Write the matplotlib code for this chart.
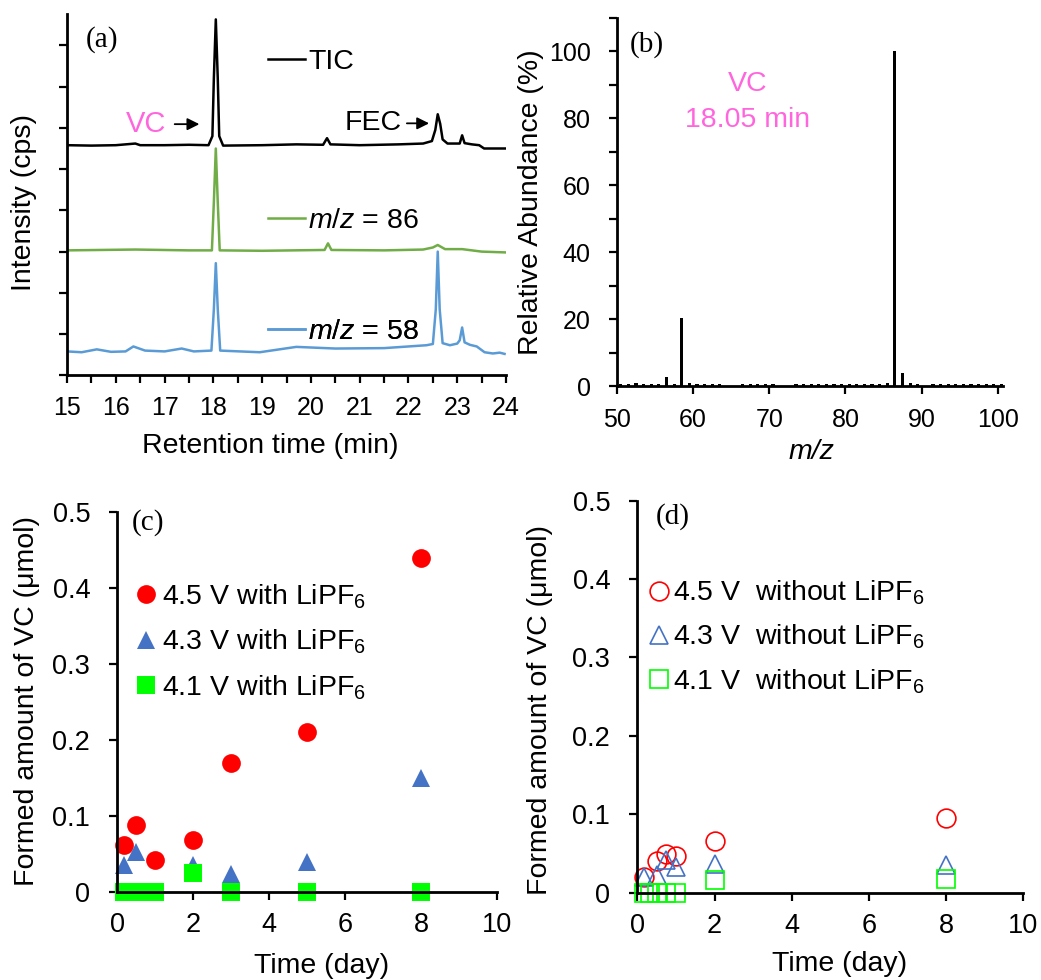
import numpy as np
import matplotlib
matplotlib.use('Agg')
import matplotlib.pyplot as plt
from matplotlib.ticker import MultipleLocator, FuncFormatter

plt.rcParams['font.family'] = ['Liberation Sans', 'DejaVu Sans']
plt.rcParams['mathtext.fontset'] = 'custom'
plt.rcParams['mathtext.rm'] = 'Liberation Sans'
plt.rcParams['mathtext.it'] = 'Liberation Sans:italic'
plt.rcParams['mathtext.default'] = 'regular'

PINK = '#ff66dd'
LAB = 20.5

# ---- (a) chromatograms (offset traces, intensity in tick units) ----
tic_t = [15.0, 15.5, 16.0, 16.4, 16.5, 17.0, 17.5, 17.9, 17.98, 18.01, 18.05, 18.09, 18.12, 18.2,
         19.0, 19.7, 20.25, 20.33, 20.4, 21.0, 21.8, 22.3, 22.48, 22.55, 22.6, 22.65, 22.7, 22.8,
         23.05, 23.1, 23.15, 23.3, 23.45, 23.55, 24.0]
tic_i = [5.58, 5.57, 5.58, 5.62, 5.58, 5.58, 5.59, 5.58, 5.8, 7.2, 8.63, 7.2, 5.8, 5.57,
         5.58, 5.6, 5.59, 5.75, 5.6, 5.58, 5.6, 5.62, 5.68, 5.95, 6.33, 6.1, 5.72, 5.62,
         5.62, 5.82, 5.63, 5.6, 5.58, 5.5, 5.5]

mz86_t = [15.0, 16.4, 17.5, 17.97, 18.01, 18.05, 18.09, 18.13, 19.0, 20.28, 20.35, 20.42,
          21.5, 22.3, 22.5, 22.6, 22.75, 23.1, 23.5, 24.0]
mz86_i = [3.03, 3.05, 3.03, 3.03, 4.2, 5.50, 4.2, 3.03, 3.02, 3.04, 3.2, 3.04,
          3.03, 3.05, 3.1, 3.16, 3.06, 3.06, 3.0, 2.98]

mz58_t = [15.0, 15.3, 15.61, 15.9, 16.2, 16.36, 16.6, 17.0, 17.35, 17.6, 17.96, 18.01, 18.05,
          18.09, 18.14, 18.95, 19.7, 20.5, 21.5, 22.37, 22.5, 22.56, 22.6, 22.64, 22.7, 22.85,
          23.0, 23.05, 23.1, 23.15, 23.26, 23.4, 23.56, 23.73, 23.87, 23.97]
mz58_i = [0.58, 0.56, 0.63, 0.57, 0.58, 0.70, 0.6, 0.58, 0.65, 0.58, 0.6, 1.6, 2.72,
          1.6, 0.6, 0.56, 0.69, 0.65, 0.66, 0.73, 0.76, 1.6, 3.0, 1.6, 0.78, 0.73,
          0.77, 0.85, 1.16, 0.8, 0.74, 0.7, 0.56, 0.53, 0.55, 0.52]

# ---- (b) mass spectrum of VC ----
mz = list(range(50, 101))
abund = [0.6, 0.6, 1.0, 0.6, 0.6, 0.6, 2.6, 0.6, 20.5, 1.0,
         0.6, 0.6, 0.6, 0.6, 0.0, 0.0, 0.6, 0.6, 0.6, 0.6,
         0.6, 0.0, 0.0, 0.6, 0.6, 0.6, 0.6, 0.6, 0.6, 0.6,
         0.6, 0.6, 0.6, 0.6, 0.6, 1.0, 100.0, 3.8, 1.0, 0.6,
         0.0, 0.6, 0.6, 0.6, 0.6, 0.6, 0.6, 0.6, 0.6, 0.6, 0.6]

# ---- (c) with LiPF6 ----
c45_t = [0.17, 0.5, 1, 2, 3, 5, 8]
c45_v = [0.062, 0.088, 0.042, 0.068, 0.17, 0.21, 0.44]
c43_t = [0.17, 0.5, 2, 3, 5, 8]
c43_v = [0.036, 0.052, 0.035, 0.024, 0.039, 0.15]
c41_t = [0.17, 0.5, 0.75, 1, 2, 3, 5, 8]
c41_v = [0.0, 0.0, 0.0, 0.0, 0.025, 0.0, 0.0, 0.0]

# ---- (d) without LiPF6 ----
d45_t = [0.17, 0.5, 0.75, 1, 2, 8]
d45_v = [0.02, 0.04, 0.049, 0.047, 0.066, 0.095]
d43_t = [0.17, 0.5, 0.75, 1, 2, 8]
d43_v = [0.02, 0.022, 0.042, 0.033, 0.037, 0.035]
d41_t = [0.17, 0.33, 0.5, 0.75, 1, 2, 8]
d41_v = [0.0, 0.0, 0.0, 0.0, 0.0, 0.016, 0.018]


def style(ax, fs, xpad, ypad):
    for s in ['top', 'right']:
        ax.spines[s].set_visible(False)
    for s in ['left', 'bottom']:
        ax.spines[s].set_linewidth(2.0)
    ax.tick_params(which='both', direction='out', length=6, width=1.6, labelsize=fs)
    ax.tick_params(axis='x', which='both', pad=xpad)
    ax.tick_params(axis='y', which='both', pad=ypad)


fig = plt.figure(figsize=(10.41, 9.8), dpi=100)

# (a)
ax = fig.add_axes([0.0644, 0.617, 0.4217, 0.3691])
l1, = ax.plot(tic_t, tic_i, color='black', lw=1.8)
l2, = ax.plot(mz86_t, mz86_i, color='#70ad47', lw=1.8)
l3, = ax.plot(mz58_t, mz58_i, color='#5b9bd5', lw=1.8)
ax.set_xlim(15, 24)
ax.set_ylim(0, 8.77)
ax.xaxis.set_major_locator(MultipleLocator(1))
ax.xaxis.set_minor_locator(MultipleLocator(0.5))
ax.yaxis.set_major_locator(MultipleLocator(1))
style(ax, 18, 9, 8)
ax.tick_params(axis='y', labelleft=False)
ax.set_xlabel('Retention time (min)', fontsize=LAB)
ax.xaxis.set_label_coords(0.462, -0.16)
ax.set_ylabel('Intensity (cps)', fontsize=LAB)
ax.yaxis.set_label_coords(-0.068, 0.478)
for h, lab, y in [(l1, 'TIC', 0.867), (l2, r'$\mathit{m/z}$ = 86', 0.427), (l3, r'$\mathit{m/z}$ = 58', 0.119)]:
    lg = ax.legend([h], [lab], loc='center left', bbox_to_anchor=(0.458, y), frameon=False,
                   fontsize=LAB, handlelength=1.3, handletextpad=0.1, borderpad=0, borderaxespad=0)
    ax.add_artist(lg)
ax.text(15.71, 8.15, '(a)', family='Liberation Serif', fontsize=21, ha='center', va='center')
ax.text(17.04, 6.09, 'VC', color=PINK, fontsize=21, ha='right', va='center')
ax.annotate('', xy=(17.77, 6.09), xytext=(17.15, 6.09),
            arrowprops=dict(arrowstyle='-|>', color='black', lw=1.3, mutation_scale=18))
ax.text(21.87, 6.11, 'FEC', color='black', fontsize=LAB, ha='right', va='center')
ax.annotate('', xy=(22.48, 6.11), xytext=(21.91, 6.11),
            arrowprops=dict(arrowstyle='-|>', color='black', lw=1.3, mutation_scale=18))

# (b)
ax = fig.add_axes([0.5927, 0.606, 0.3708, 0.3756])
ax.bar(np.array(mz) + 0.5, abund, width=0.42, color='black')
ax.set_xlim(50, 100.7)
ax.set_ylim(0, 110)
ax.xaxis.set_major_locator(MultipleLocator(10))
ax.yaxis.set_major_locator(MultipleLocator(20))
ax.yaxis.set_minor_locator(MultipleLocator(10))
style(ax, 18, 10, 13)
ax.set_xlabel('m/z', fontsize=LAB, style='italic')
ax.xaxis.set_label_coords(0.503, -0.145)
ax.set_ylabel('Relative Abundance (%)', fontsize=LAB)
ax.yaxis.set_label_coords(-0.19, 0.5)
ax.text(53.9, 102, '(b)', family='Liberation Serif', fontsize=21, ha='center', va='center')
ax.text(67.2, 90.4, 'VC', color=PINK, fontsize=LAB, ha='center', va='center')
ax.text(67.2, 79.6, '18.05 min', color=PINK, fontsize=LAB, ha='center', va='center')

fmt = FuncFormatter(lambda v, p: '0' if abs(v) < 1e-9 else f'{v:.1f}')
ms = 13.5

# (c)
ax = fig.add_axes([0.1127, 0.0898, 0.3647, 0.3878])
ax.plot(c45_t, c45_v, 'o', color='#ff0000', ms=ms, mew=0, clip_on=False,
        label=r'4.5 V with LiPF$_6$')
ax.plot(c43_t, c43_v, '^', color='#4472c4', ms=ms - 1, mew=0, clip_on=False,
        label=r'4.3 V with LiPF$_6$')
ax.plot(c41_t, c41_v, 's', color='#00ff00', ms=ms, mew=0, clip_on=False,
        label=r'4.1 V with LiPF$_6$')
ax.set_xlim(0, 10)
ax.set_ylim(0, 0.5)
ax.xaxis.set_major_locator(MultipleLocator(2))
ax.yaxis.set_major_locator(MultipleLocator(0.1))
ax.yaxis.set_major_formatter(fmt)
style(ax, 19.5, 8.5, 13.5)
ax.set_xlabel('Time (day)', fontsize=LAB)
ax.xaxis.set_label_coords(0.537, -0.16)
ax.set_ylabel('Formed amount of VC (μmol)', fontsize=LAB)
ax.yaxis.set_label_coords(-0.204, 0.503)
ax.legend(loc='center left', bbox_to_anchor=(0.046, 0.658), frameon=False, fontsize=LAB,
          handlelength=0.8, handletextpad=0.15, labelspacing=0.6, borderpad=0,
          borderaxespad=0, numpoints=1)
ax.text(0.8, 0.486, '(c)', family='Liberation Serif', fontsize=21, ha='center', va='center')

# (d)
ax = fig.add_axes([0.6122, 0.0891, 0.3708, 0.4])
ax.plot(d45_t, d45_v, 'o', mfc='none', mec='#ff0000', ms=ms, mew=1.2, clip_on=False,
        label=r'4.5 V  without LiPF$_6$')
ax.plot(d43_t, d43_v, '^', mfc='none', mec='#4472c4', ms=ms - 1, mew=1.2, clip_on=False,
        label=r'4.3 V  without LiPF$_6$')
ax.plot(d41_t, d41_v, 's', mfc='none', mec='#00ff00', ms=ms, mew=1.2, clip_on=False,
        label=r'4.1 V  without LiPF$_6$')
ax.set_xlim(0, 10)
ax.set_ylim(0, 0.5)
ax.xaxis.set_major_locator(MultipleLocator(2))
ax.yaxis.set_major_locator(MultipleLocator(0.1))
ax.yaxis.set_major_formatter(fmt)
style(ax, 19.5, 8.5, 13.5)
ax.set_xlabel('Time (day)', fontsize=LAB)
ax.xaxis.set_label_coords(0.523, -0.15)
ax.set_ylabel('Formed amount of VC (μmol)', fontsize=LAB)
ax.yaxis.set_label_coords(-0.218, 0.466)
ax.legend(loc='center left', bbox_to_anchor=(0.027, 0.652), frameon=False, fontsize=LAB,
          handlelength=0.8, handletextpad=0.1, labelspacing=0.55, borderpad=0,
          borderaxespad=0, numpoints=1)
ax.text(0.93, 0.48, '(d)', family='Liberation Serif', fontsize=21, ha='center', va='center')

fig.savefig('out.png', dpi=100)
